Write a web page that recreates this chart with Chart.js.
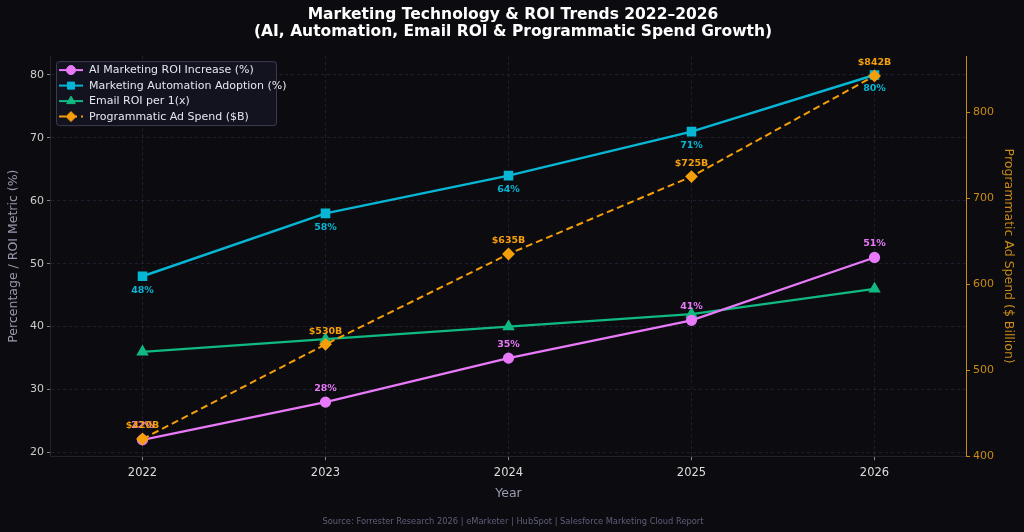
<!DOCTYPE html>
<html lang="en">
<head>
    <meta charset="UTF-8">
    <title>Marketing Technology & ROI Trends</title>
    <script src="https://cdn.jsdelivr.net/npm/chart.js"></script>
    <style>
        html, body { margin: 0; padding: 0; background: #0c0c10; overflow: hidden; }
        .chart-container { position: relative; width: 1024px; height: 532px; }
    </style>
</head>
<body>
    <div class="chart-container">
        <canvas id="trendChart" width="1024" height="532"></canvas>
    </div>

    <script>
        // Data
        const years = ['2022', '2023', '2024', '2025', '2026'];
        const aiRoi = [22, 28, 35, 41, 51];
        const automationAdoption = [48, 58, 64, 71, 80];
        const emailRoi = [36, 38, 40, 42, 46];
        const programmaticSpend = [420, 530, 635, 725, 842];

        const leftTicks = [20, 30, 40, 50, 60, 70, 80];
        const rightTicks = [400, 500, 600, 700, 800];

        const FONT = "'DejaVu Sans', sans-serif";
        const AI_COLOR = '#e879f9';
        const AUTO_COLOR = '#06b6d4';
        const EMAIL_COLOR = '#10b981';
        const PROG_COLOR = '#f59e0b';
        const AXIS_ORANGE = '#c98a16';
        const GRID = 'rgba(70, 70, 110, 0.35)';

        // Value labels next to points
        const pointLabels = {
            id: 'pointLabels',
            afterDatasetsDraw(chart) {
                const ctx = chart.ctx;
                ctx.save();
                ctx.font = 'bold 9.5px ' + FONT;
                ctx.textAlign = 'center';
                ctx.textBaseline = 'middle';
                chart.data.datasets.forEach((ds, i) => {
                    if (!ds.labelFmt) return;
                    const meta = chart.getDatasetMeta(i);
                    meta.data.forEach((pt, j) => {
                        ctx.fillStyle = ds.borderColor;
                        ctx.fillText(ds.labelFmt(ds.data[j]), pt.x, pt.y + ds.labelOffset);
                    });
                });
                ctx.restore();
            }
        };

        // Legend drawn inside the plot, top-left
        const insideLegend = {
            id: 'insideLegend',
            afterDraw(chart) {
                const ctx = chart.ctx;
                const area = chart.chartArea;
                const x0 = area.left + 5, y0 = area.top + 5;
                ctx.save();
                ctx.fillStyle = 'rgba(20, 20, 34, 0.9)';
                ctx.strokeStyle = 'rgba(90, 90, 120, 0.6)';
                ctx.lineWidth = 1;
                ctx.beginPath();
                ctx.roundRect(x0 + 0.5, y0 + 0.5, 220, 64, 3);
                ctx.fill();
                ctx.stroke();
                ctx.font = '11px ' + FONT;
                ctx.textBaseline = 'middle';
                chart.data.datasets.forEach((ds, i) => {
                    const y = y0 + 9 + i * 15.5;
                    ctx.strokeStyle = ds.borderColor;
                    ctx.lineWidth = 2;
                    ctx.setLineDash(ds.borderDash || []);
                    ctx.beginPath();
                    ctx.moveTo(x0 + 3, y);
                    ctx.lineTo(x0 + 27, y);
                    ctx.stroke();
                    ctx.setLineDash([]);
                    ctx.fillStyle = ds.borderColor;
                    ctx.strokeStyle = ds.borderColor;
                    ctx.lineWidth = 1;
                    Chart.helpers.drawPoint(ctx, {
                        pointStyle: ds.pointStyle,
                        radius: ds.pointRadius,
                        borderWidth: 1
                    }, x0 + 15, y);
                    ctx.fillStyle = '#e6e6ee';
                    ctx.fillText(ds.label, x0 + 33, y + 0.5);
                });
                ctx.restore();
            }
        };

        const ctx = document.getElementById('trendChart').getContext('2d');
        new Chart(ctx, {
            type: 'line',
            data: {
                labels: years,
                datasets: [
                    {
                        label: 'AI Marketing ROI Increase (%)',
                        data: aiRoi,
                        yAxisID: 'y',
                        borderColor: AI_COLOR,
                        backgroundColor: AI_COLOR,
                        borderWidth: 2.2,
                        pointStyle: 'circle',
                        pointRadius: 4.5,
                        labelFmt: v => v + '%',
                        labelOffset: -14,
                        order: 3
                    },
                    {
                        label: 'Marketing Automation Adoption (%)',
                        data: automationAdoption,
                        yAxisID: 'y',
                        borderColor: AUTO_COLOR,
                        backgroundColor: AUTO_COLOR,
                        borderWidth: 2.5,
                        pointStyle: 'rect',
                        pointRadius: 5,
                        labelFmt: v => v + '%',
                        labelOffset: 14,
                        order: 2
                    },
                    {
                        label: 'Email ROI per 1(x)',
                        data: emailRoi,
                        yAxisID: 'y',
                        borderColor: EMAIL_COLOR,
                        backgroundColor: EMAIL_COLOR,
                        borderWidth: 2.2,
                        pointStyle: 'triangle',
                        pointRadius: 5,
                        order: 4
                    },
                    {
                        label: 'Programmatic Ad Spend ($B)',
                        data: programmaticSpend,
                        yAxisID: 'y1',
                        borderColor: PROG_COLOR,
                        backgroundColor: PROG_COLOR,
                        borderWidth: 2,
                        borderDash: [7, 4],
                        pointStyle: 'rectRot',
                        pointRadius: 5,
                        labelFmt: v => '$' + v + 'B',
                        labelOffset: -13,
                        order: 1
                    }
                ]
            },
            options: {
                responsive: false,
                animation: false,
                layout: { padding: { left: 2, right: 0, top: 0, bottom: 3 } },
                plugins: {
                    legend: { display: false },
                    tooltip: { enabled: false },
                    title: {
                        display: true,
                        text: ['Marketing Technology & ROI Trends 2022–2026',
                               '(AI, Automation, Email ROI & Programmatic Spend Growth)'],
                        color: '#ffffff',
                        font: { family: FONT, size: 15.5, weight: 'bold', lineHeight: 1.1 },
                        padding: { top: 6, bottom: 16 }
                    },
                    subtitle: {
                        display: true,
                        position: 'bottom',
                        text: 'Source: Forrester Research 2026 | eMarketer | HubSpot | Salesforce Marketing Cloud Report',
                        color: '#5e5e7a',
                        font: { family: FONT, size: 8.3 },
                        padding: { top: 12, bottom: 2 }
                    }
                },
                scales: {
                    x: {
                        offset: true,
                        grid: { color: GRID, tickColor: '#888', tickLength: 4, offset: false },
                        border: { color: '#22222a', dash: [3, 3] },
                        ticks: { color: '#dddddd', font: { family: FONT, size: 11.5 }, padding: 6 },
                        title: {
                            display: true, text: 'Year', color: '#9a9ab0',
                            font: { family: FONT, size: 12.5 }, padding: { top: 0 }
                        }
                    },
                    y: {
                        position: 'left',
                        min: 19.4,
                        max: 83,
                        afterBuildTicks: axis => { axis.ticks = leftTicks.map(v => ({ value: v })); },
                        grid: { color: GRID, tickColor: '#888', tickLength: 4 },
                        border: { color: '#22222a', dash: [3, 3] },
                        ticks: { color: '#cccccc', font: { family: FONT, size: 11 }, padding: 3 },
                        title: {
                            display: true, text: 'Percentage / ROI Metric (%)', color: '#9a9ab0',
                            font: { family: FONT, size: 12.5 }, padding: { bottom: 6 }
                        }
                    },
                    y1: {
                        position: 'right',
                        min: 400,
                        max: 865,
                        afterBuildTicks: axis => { axis.ticks = rightTicks.map(v => ({ value: v })); },
                        grid: { drawOnChartArea: false, tickColor: AXIS_ORANGE, tickLength: 4 },
                        border: { color: AXIS_ORANGE },
                        ticks: { color: AXIS_ORANGE, font: { family: FONT, size: 11 }, padding: 3 },
                        title: {
                            display: true, text: 'Programmatic Ad Spend ($ Billion)', color: AXIS_ORANGE,
                            font: { family: FONT, size: 12.5 }, padding: { top: 8 }
                        }
                    }
                }
            },
            plugins: [pointLabels, insideLegend]
        });
    </script>
</body>
</html>
